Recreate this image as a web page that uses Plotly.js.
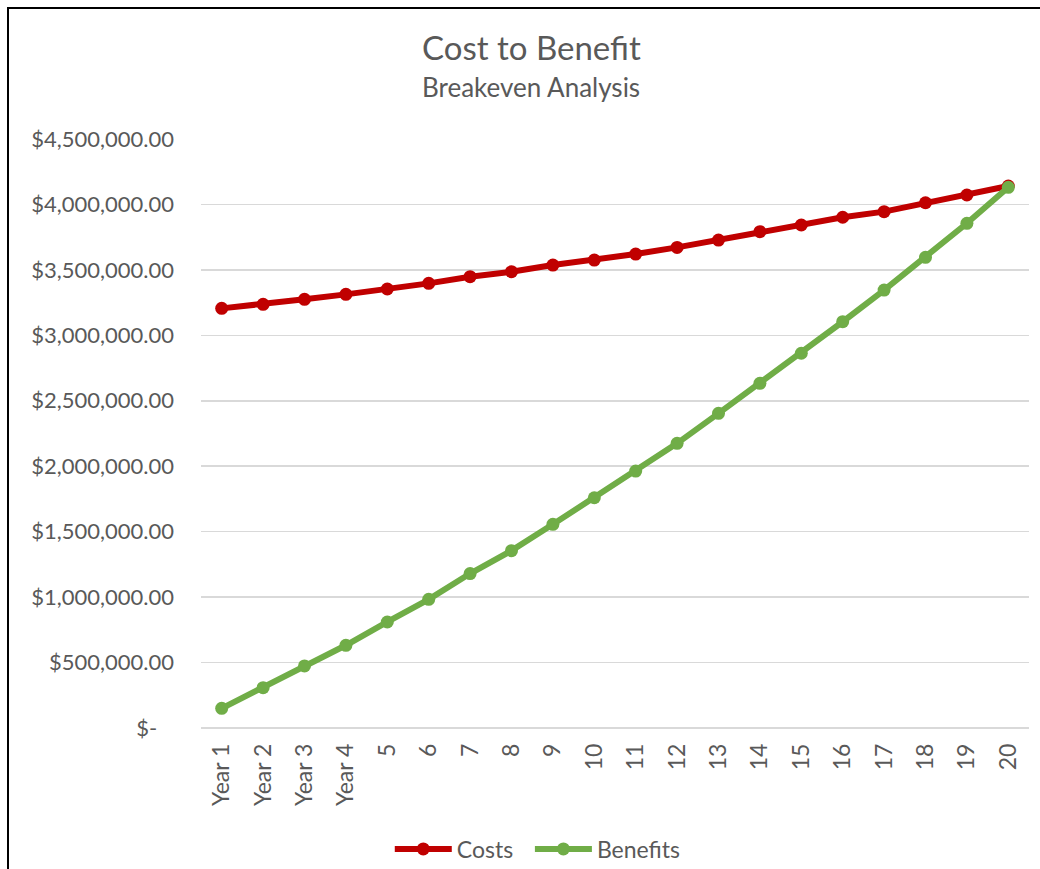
<!DOCTYPE html>
<html>
<head>
<meta charset="utf-8">
<script src="https://cdn.plot.ly/plotly-3.0.1.min.js"></script>
<style>
  html, body { margin: 0; padding: 0; background: #ffffff; }
  #wrap { position: relative; width: 1040px; height: 869px; overflow: hidden; }
  #chart { position: absolute; left: 0; top: 0; width: 1040px; height: 869px; }
  #frame { position: absolute; left: 7px; top: 7px; width: 1100px; height: 900px;
           border-top: 2px solid #000; border-left: 2px solid #000; pointer-events: none; }
</style>
</head>
<body>
<div id="wrap">
  <div id="chart"></div>
  <div id="frame"></div>
</div>
<script>
// Twenty-year breakeven comparison
const periods = ['Year 1', 'Year 2', 'Year 3', 'Year 4', '5', '6', '7', '8', '9', '10',
                 '11', '12', '13', '14', '15', '16', '17', '18', '19', '20'];

const costs = [3206000, 3237000, 3275000, 3313000, 3354000, 3397000, 3448000, 3486000, 3537000, 3575000,
               3621000, 3672000, 3728000, 3792000, 3843000, 3902000, 3945000, 4013000, 4072000, 4141000];

const benefits = [150000, 308000, 474000, 632000, 810000, 983000, 1180000, 1355000, 1556000, 1759000,
                  1963000, 2175000, 2404000, 2633000, 2863000, 3104000, 3346000, 3596000, 3856000, 4131000];

const yTickValues = [0, 500000, 1000000, 1500000, 2000000, 2500000, 3000000, 3500000, 4000000, 4500000];
const yTickLabels = ['$-\u00a0\u00a0\u00a0', '$500,000.00', '$1,000,000.00', '$1,500,000.00', '$2,000,000.00',
                     '$2,500,000.00', '$3,000,000.00', '$3,500,000.00', '$4,000,000.00', '$4,500,000.00'];

const FONT = 'Lato, "Open Sans", sans-serif';
const GREY = '#595959';

const traces = [
  {
    x: periods, y: costs, name: 'Costs\u00a0\u00a0', type: 'scatter', mode: 'lines+markers',
    line: { color: '#C00000', width: 6 },
    marker: { color: '#C00000', size: 13 },
    hoverinfo: 'skip'
  },
  {
    x: periods, y: benefits, name: 'Benefits', type: 'scatter', mode: 'lines+markers',
    line: { color: '#70AD47', width: 6 },
    marker: { color: '#70AD47', size: 13 },
    hoverinfo: 'skip'
  }
];

const layout = {
  width: 1040, height: 869,
  margin: { l: 201, r: 11, t: 139, b: 141, autoexpand: false },
  paper_bgcolor: '#ffffff', plot_bgcolor: '#ffffff',
  font: { family: FONT, color: GREY, size: 22 },
  showlegend: true,
  legend: {
    orientation: 'h', x: 0.228, xanchor: 'left', y: -0.2054, yanchor: 'middle',
    font: { family: FONT, size: 23, color: GREY },
    itemwidth: 57, tracegroupgap: 0, bgcolor: 'rgba(0,0,0,0)'
  },
  xaxis: {
    type: 'category', range: [-0.5, 19.5], fixedrange: true, automargin: false,
    showgrid: false, zeroline: false, showline: false,
    ticks: '', tickangle: -90, ticklabelstandoff: 10,
    tickfont: { family: FONT, size: 23, color: GREY }
  },
  yaxis: {
    range: [0, 4500000], fixedrange: true, automargin: false,
    tickvals: yTickValues, ticktext: yTickLabels,
    showgrid: true, gridcolor: '#D9D9D9', gridwidth: 1.5,
    zeroline: true, zerolinecolor: '#D9D9D9', zerolinewidth: 1.5,
    showline: false, ticks: '', ticklabelstandoff: 26,
    tickfont: { family: FONT, size: 22, color: GREY }
  },
  annotations: [
    { text: 'Cost to Benefit', xref: 'paper', yref: 'paper', x: 0.3986, y: 1.156,
      xanchor: 'center', yanchor: 'middle', showarrow: false,
      font: { family: FONT, size: 33, color: GREY } },
    { text: 'Breakeven Analysis', xref: 'paper', yref: 'paper', x: 0.3986, y: 1.088,
      xanchor: 'center', yanchor: 'middle', showarrow: false,
      font: { family: FONT, size: 26, color: GREY } }
  ]
};

Plotly.newPlot('chart', traces, layout, { displayModeBar: false, staticPlot: true });
</script>
</body>
</html>
